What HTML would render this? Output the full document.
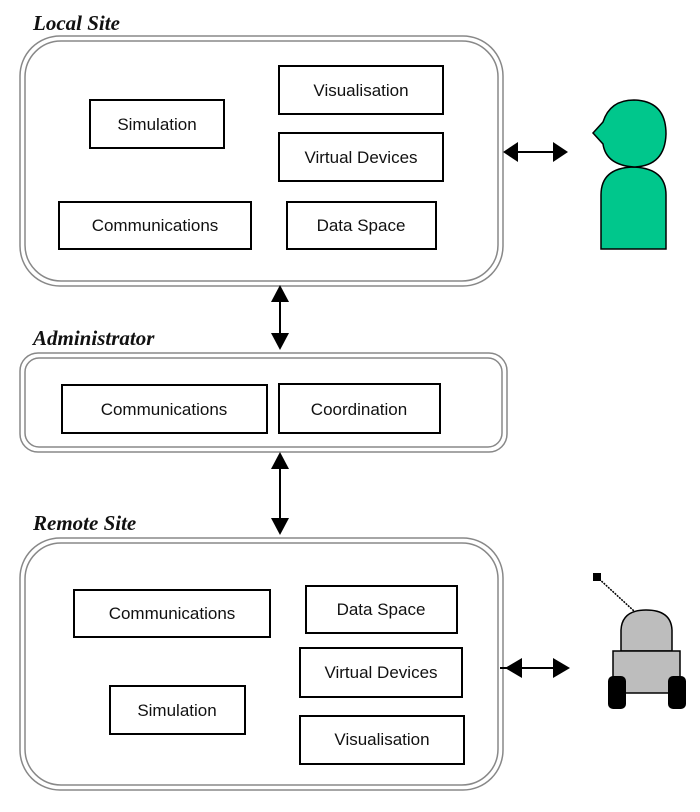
<!DOCTYPE html>
<html><head><style>
html,body{margin:0;padding:0;background:#fff;}
svg{display:block;}
.lbl{font-family:"Liberation Serif",serif;font-style:italic;font-weight:bold;font-size:21px;fill:#111;}
.t{font-family:"Liberation Sans",sans-serif;font-size:17px;fill:#111;text-anchor:middle;}
.b{fill:#fff;stroke:#000;stroke-width:2;}
.f{fill:none;stroke:#888;stroke-width:1.5;}
</style></head><body>
<svg width="700" height="812" viewBox="0 0 700 812" xmlns="http://www.w3.org/2000/svg">
<!-- Local Site -->
<text class="lbl" x="33" y="30">Local Site</text>
<rect class="f" x="20" y="36" width="483" height="250" rx="40"/>
<rect class="f" x="25" y="41" width="473" height="240" rx="36"/>
<rect class="b" x="279" y="66" width="164" height="48"/><text class="t" x="361" y="96">Visualisation</text>
<rect class="b" x="90" y="100" width="134" height="48"/><text class="t" x="157" y="130">Simulation</text>
<rect class="b" x="279" y="133" width="164" height="48"/><text class="t" x="361" y="163">Virtual Devices</text>
<rect class="b" x="59" y="202" width="192" height="47"/><text class="t" x="155" y="231">Communications</text>
<rect class="b" x="287" y="202" width="149" height="47"/><text class="t" x="361" y="231">Data Space</text>
<!-- horizontal arrow top -->
<line x1="515" y1="152" x2="560" y2="152" stroke="#000" stroke-width="2"/>
<polygon points="503,152 518,142 518,162" fill="#000"/>
<polygon points="568,152 553,142 553,162" fill="#000"/>
<!-- person -->
<path d="M601,249 L601,195 Q601,168 633,167 Q666,168 666,195 L666,249 Z" fill="#00c78c" stroke="#000" stroke-width="1.5"/>
<path d="M603,122 Q610,100 634,100 Q666,101 666,134 Q665,166 634,167 Q606,165 603,144 L593,133 Z" fill="#00c78c" stroke="#000" stroke-width="1.5"/>
<!-- vertical arrow 1 -->
<line x1="280" y1="298" x2="280" y2="338" stroke="#000" stroke-width="2"/>
<polygon points="280,285 271,302 289,302" fill="#000"/>
<polygon points="280,350 271,333 289,333" fill="#000"/>
<!-- Administrator -->
<text class="lbl" x="33" y="345">Administrator</text>
<rect class="f" x="20" y="353" width="487" height="99" rx="18"/>
<rect class="f" x="25" y="358" width="477" height="89" rx="14"/>
<rect class="b" x="62" y="385" width="205" height="48"/><text class="t" x="164" y="415">Communications</text>
<rect class="b" x="279" y="384" width="161" height="49"/><text class="t" x="359" y="415">Coordination</text>
<!-- vertical arrow 2 -->
<line x1="280" y1="465" x2="280" y2="522" stroke="#000" stroke-width="2"/>
<polygon points="280,452 271,469 289,469" fill="#000"/>
<polygon points="280,535 271,518 289,518" fill="#000"/>
<!-- Remote Site -->
<text class="lbl" x="33" y="530">Remote Site</text>
<rect class="f" x="20" y="538" width="483" height="252" rx="40"/>
<rect class="f" x="25" y="543" width="473" height="242" rx="36"/>
<rect class="b" x="74" y="590" width="196" height="47"/><text class="t" x="172" y="619">Communications</text>
<rect class="b" x="306" y="586" width="151" height="47"/><text class="t" x="381" y="615">Data Space</text>
<rect class="b" x="300" y="648" width="162" height="49"/><text class="t" x="381" y="678">Virtual Devices</text>
<rect class="b" x="110" y="686" width="135" height="48"/><text class="t" x="177" y="716">Simulation</text>
<rect class="b" x="300" y="716" width="164" height="48"/><text class="t" x="382" y="745">Visualisation</text>
<!-- horizontal arrow bottom -->
<line x1="500" y1="668" x2="560" y2="668" stroke="#000" stroke-width="2"/>
<polygon points="505,668 522,658 522,678" fill="#000"/>
<polygon points="570,668 553,658 553,678" fill="#000"/>
<!-- robot -->
<line x1="597" y1="577" x2="634" y2="611" stroke="#000" stroke-width="1.5" stroke-dasharray="2,1"/>
<rect x="593" y="573" width="8" height="8" fill="#000"/>
<path d="M621,651 L621,630 Q622,610 646,610 Q671,610 672,630 L672,651 Z" fill="#bdbdbd" stroke="#000" stroke-width="1.5"/>
<rect x="613" y="651" width="67" height="42" fill="#bdbdbd" stroke="#000" stroke-width="1.5"/>
<rect x="608" y="676" width="18" height="33" rx="5" fill="#000"/>
<rect x="668" y="676" width="18" height="33" rx="5" fill="#000"/>
</svg>
</body></html>
